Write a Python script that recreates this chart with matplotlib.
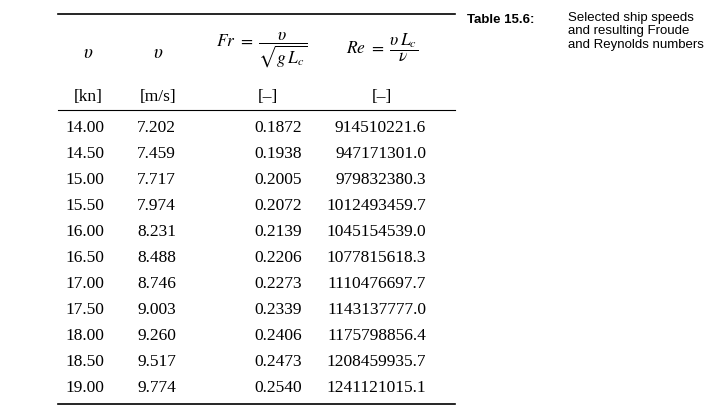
import matplotlib
matplotlib.use("Agg")
import matplotlib.pyplot as plt

speed_kn = ["14.00","14.50","15.00","15.50","16.00","16.50","17.00","17.50","18.00","18.50","19.00"]
speed_ms = ["7.202","7.459","7.717","7.974","8.231","8.488","8.746","9.003","9.260","9.517","9.774"]
froude = ["0.1872","0.1938","0.2005","0.2072","0.2139","0.2206","0.2273","0.2339","0.2406","0.2473","0.2540"]
reynolds = ["914510221.6","947171301.0","979832380.3","1012493459.7","1045154539.0","1077815618.3",
            "1110476697.7","1143137777.0","1175798856.4","1208459935.7","1241121015.1"]

plt.rcParams['mathtext.fontset'] = 'stix'
W, H = 727, 418
fig = plt.figure(figsize=(W/100, H/100), dpi=100)
ax = fig.add_axes([0, 0, 1, 1])
ax.set_xlim(0, W); ax.set_ylim(H, 0); ax.axis('off')
serif = 'Liberation Serif'
fs = 12.5

ax.plot([58, 455], [14, 14], color='k', lw=1.2)
ax.plot([58, 455], [110, 110], color='k', lw=0.8)
ax.plot([58, 455], [404, 404], color='k', lw=1.2)

# headers
ax.text(88, 52, r'$\upsilon$', ha='center', va='center', fontsize=fs+1)
ax.text(158, 52, r'$\upsilon$', ha='center', va='center', fontsize=fs+1)
ax.text(262, 50, r'$Fr\ =\ \dfrac{\upsilon}{\sqrt{g\,L_c}}$', ha='center', va='center', fontsize=fs)
ax.text(382, 48, r'$Re\ =\ \dfrac{\upsilon\,L_c}{\nu}$', ha='center', va='center', fontsize=fs)
ax.text(88, 97, '[kn]', ha='center', va='center', fontsize=fs, family=serif)
ax.text(158, 97, '[m/s]', ha='center', va='center', fontsize=fs, family=serif)
ax.text(268, 97, '[–]', ha='center', va='center', fontsize=fs, family=serif)
ax.text(382, 97, '[–]', ha='center', va='center', fontsize=fs, family=serif)

y0, dy = 128, 26
for i in range(len(speed_kn)):
    y = y0 + i*dy
    ax.text(104, y, speed_kn[i], ha='right', va='center', fontsize=fs, family=serif)
    ax.text(137, y, speed_ms[i], ha='left', va='center', fontsize=fs, family=serif)
    ax.text(302, y, froude[i], ha='right', va='center', fontsize=fs, family=serif)
    ax.text(426, y, reynolds[i], ha='right', va='center', fontsize=fs, family=serif)

ax.text(467, 20, 'Table 15.6:', ha='left', va='center', fontsize=9.5, fontweight='bold', family='Liberation Sans')
ax.text(568, 12, 'Selected ship speeds\nand resulting Froude\nand Reynolds numbers', ha='left', va='top',
        fontsize=9.5, family='Liberation Sans', linespacing=1.15)

fig.savefig('out.png', dpi=100)
